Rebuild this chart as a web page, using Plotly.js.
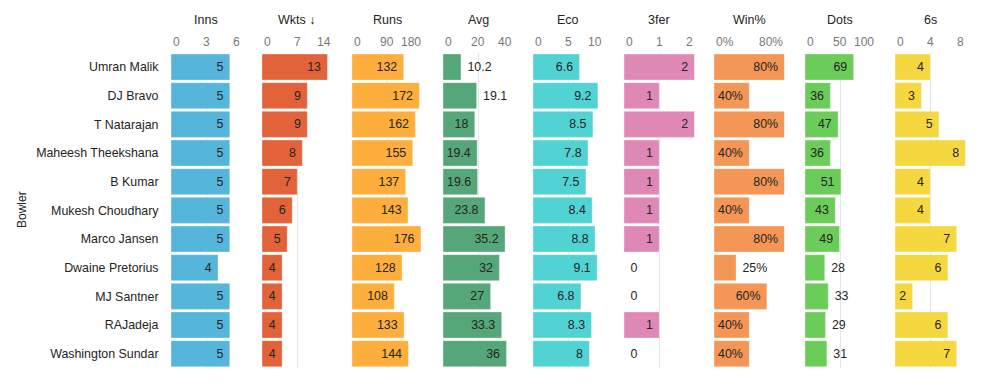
<!DOCTYPE html>
<html><head><meta charset="utf-8">
<script src="https://cdn.plot.ly/plotly-3.0.1.min.js"></script>
<style>html,body{margin:0;padding:0;background:#fff}#chart{width:981px;height:390px}</style>
</head><body><div id="chart"></div>
<script>
const bowlers = ["Umran Malik","DJ Bravo","T Natarajan","Maheesh Theekshana","B Kumar","Mukesh Choudhary","Marco Jansen","Dwaine Pretorius","MJ Santner","RAJadeja","Washington Sundar"];
const inns = [5,5,5,5,5,5,5,4,5,5,5];
const wkts = [13,9,9,8,7,6,5,4,4,4,4];
const runs = [132,172,162,155,137,143,176,128,108,133,144];
const avg = [10.2,19.1,18,19.4,19.6,23.8,35.2,32,27,33.3,36];
const eco = [6.6,9.2,8.5,7.8,7.5,8.4,8.8,9.1,6.8,8.3,8];
const threeFer = [2,1,2,1,1,1,1,0,0,1,0];
const winPct = [0.8,0.4,0.8,0.4,0.8,0.4,0.8,0.25,0.6,0.4,0.4];
const dots = [69,36,47,36,51,43,49,28,33,29,31];
const sixes = [4,3,5,8,4,4,7,6,2,6,7];

const headers = ["Inns","Wkts ↓","Runs","Avg","Eco","3fer","Win%","Dots","6s"];
const tickVals = [[0,3,6],[0,7,14],[0,90,180],[0,20,40],[0,5,10],[0,1,2],[0,0.8],[0,50,100],[0,4,8]];
const tickText = [["0","3","6"],["0","7","14"],["0","90","180"],["0","20","40"],["0","5","10"],["0","1","2"],["0%","80%"],["0","50","100"],["0","4","8"]];

const series = [inns,wkts,runs,avg,eco,threeFer,winPct,dots,sixes];
const ranges = [[0,6],[0,14],[0,180],[0,40],[0,10],[0,2],[0,0.8],[0,100],[0,8]];
const colors = ["#55b5db","#e2623a","#fdae3c","#55a679","#52d3d3","#e088b5","#f39656","#6bcc59","#f5d840"];
const fmt = [null,null,null,null,null,null,"%{x:.0%}",null,null];
const I="inside", O="outside";
const positions = [
  Array(11).fill(I),
  Array(11).fill(I),
  Array(11).fill(I),
  [O,O,I,I,I,I,I,I,I,I,I],
  Array(11).fill(I),
  [I,I,I,I,I,I,I,O,O,I,O],
  [I,I,I,I,I,I,I,O,I,I,I],
  [I,I,I,I,I,I,I,O,O,O,O],
  Array(11).fill(I)
];

const W = 981, H = 390;
const starts = [171,262,352,443,533,624,714,805,895];
const pw = 70.5;
const yTop = 52.7, yBot = 368;
const font = "'Liberation Sans', Arial, sans-serif";
const NB = "\u00a0";

const traces = [];
const layout = {
  width: W, height: H, margin:{l:0,r:0,t:0,b:0},
  paper_bgcolor:"#fff", plot_bgcolor:"rgba(0,0,0,0)",
  showlegend:false, bargap:0.09, hovermode:false,
  font:{family:font, size:12, color:"#252423"},
  yaxis:{
    domain:[1-yBot/H, 1-yTop/H], type:"category", categoryorder:"array",
    categoryarray:bowlers, autorange:"reversed", anchor:"x",
    showgrid:false, zeroline:false, showline:false, ticks:"outside", ticklen:9, tickcolor:"rgba(0,0,0,0)",
    tickfont:{family:font, size:12.4, color:"#252423"}
  },
  annotations:[
    {text:"Bowler", xref:"paper", yref:"paper", x:22/W, y:1-210/H, textangle:-90, showarrow:false,
     font:{family:font,size:12,color:"#252423"}, xanchor:"center", yanchor:"middle"}
  ]
};

series.forEach((vals,i)=>{
  const ax = i===0 ? "x" : "x"+(i+1);
  const key = i===0 ? "xaxis" : "xaxis"+(i+1);
  const base = fmt[i] || "%{x}";
  traces.push({
    type:"bar", orientation:"h", x:vals, y:bowlers, xaxis:ax, yaxis:"y",
    marker:{color:colors[i], line:{color:"rgba(255,255,255,0.35)", width:1}},
    texttemplate: positions[i].map(p => p===I ? base+NB : NB+base),
    textposition: positions[i], insidetextanchor:"end", constraintext:"none", cliponaxis:false,
    insidetextfont:{family:font,size:12.4,color:"#252423"},
    outsidetextfont:{family:font,size:12.4,color:"#252423"}
  });
  layout[key] = {
    domain:[starts[i]/W,(starts[i]+pw)/W], range:ranges[i], anchor:"y", side:"top",
    tickmode:"array", tickvals:tickVals[i], showgrid:true, gridcolor:"#e6e6e6", gridwidth:1,
    zeroline:false, showline:false, ticks:"", showticklabels:false, fixedrange:true
  };
  const n = tickVals[i].length;
  tickVals[i].forEach((tv,j)=>{
    layout.annotations.push({
      text:tickText[i][j], xref:ax, yref:"paper", x:tv, y:1-42/H,
      xanchor: j===0 ? "left" : (j===n-1 ? "right" : "center"), yanchor:"middle",
      showarrow:false, font:{family:font,size:12,color:"#777777"}
    });
  });
  layout.annotations.push({
    text:headers[i], xref:"paper", yref:"paper", x:(starts[i]+pw/2)/W, y:1-20/H,
    showarrow:false, xanchor:"center", yanchor:"middle",
    font:{family:font,size:12.5,color:"#252423"}
  });
});

Plotly.newPlot("chart", traces, layout, {staticPlot:true, displayModeBar:false});
</script></body></html>
